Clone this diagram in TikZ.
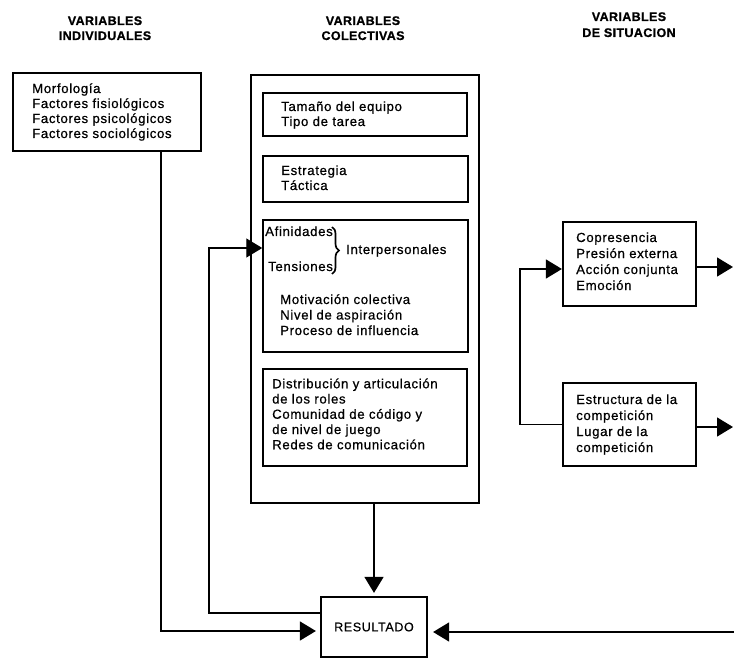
\documentclass[tikz,border=0pt]{standalone}
\usepackage{fontspec}
\setmainfont{Liberation Sans}
\newfontfamily\bodyfont[LetterSpace=5,FakeBold=0.6]{Liberation Sans}
\newfontfamily\headfont[LetterSpace=3,FakeBold=0.8]{Liberation Sans}
\usetikzlibrary{arrows.meta,decorations.pathreplacing}

\begin{document}
\begin{tikzpicture}[x=1pt,y=-1pt,
  txt/.style={inner sep=0pt, anchor=base west, font=\bodyfont\fontsize{13.2}{15}\selectfont},
  head/.style={inner sep=0pt, anchor=base, font=\headfont\bfseries\fontsize{12.5}{14}\selectfont},
  outerbox/.style={draw, line width=2.2pt, inner sep=0pt},
  innerbox/.style={draw, line width=1.5pt, inner sep=0pt},
  conn/.style={line width=1.4pt},
  tip/.style={-{Triangle[length=16pt,width=19pt]}},
]
% canvas
\fill[white] (0,0) rectangle (734,658);
\useasboundingbox (0,0) rectangle (734,658);

% column headings
\node[head] (h1a) at (105,25) {VARIABLES};
\node[head] (h1b) at (105,40) {INDIVIDUALES};
\node[head] (h2a) at (363,25) {VARIABLES};
\node[head] (h2b) at (363,40) {COLECTIVAS};
\node[head] (h3a) at (629,21) {VARIABLES};
\node[head] (h3b) at (629,37) {DE SITUACION};

% individual variables
\node[outerbox, minimum width=188pt, minimum height=78pt] (ind) at (107,112) {};
\foreach \t [count=\i] in {Morfología, Factores fisiológicos, Factores psicológicos, Factores sociológicos}
  \node[txt] (ind-\i) at (32,{78+15*\i}) {\t};

% collective variables: outer frame and its four groups
\node[outerbox, minimum width=228pt, minimum height=428pt] (big) at (365,289) {};

\node[innerbox, minimum width=204pt, minimum height=43pt] (s1) at (365,114.5) {};
\foreach \t [count=\i] in {Tamaño del equipo, Tipo de tarea}
  \node[txt] (s1-\i) at (281,{96+15*\i}) {\t};

\node[innerbox, minimum width=205pt, minimum height=46pt] (s2) at (365.5,179) {};
\foreach \t [count=\i] in {Estrategia, Táctica}
  \node[txt] (s2-\i) at (281,{160+15*\i}) {\t};

\node[innerbox, minimum width=205pt, minimum height=132pt] (s3) at (365.5,286) {};
\node[txt] (afin) at (265,236) {Afinidades};
\node[txt] (tens) at (268,271) {Tensiones};
\node[txt] (inter) at (346,254) {Interpersonales};
\draw[line width=1.7pt, decorate, decoration={brace, amplitude=7pt, aspect=0.5}] (332,227) -- (332,274);
\foreach \t [count=\i] in {Motivación colectiva, Nivel de aspiración, Proceso de influencia}
  \node[txt] (s3-\i) at (280,{288.5+15.5*\i}) {\t};

\node[innerbox, minimum width=204pt, minimum height=97pt] (s4) at (365,417.5) {};
\foreach \t [count=\i] in {Distribución y articulación, de los roles, Comunidad de código y, de nivel de juego, Redes de comunicación}
  \node[txt] (s4-\i) at (272,{373+15.25*\i}) {\t};

% situational variables
\node[outerbox, minimum width=133pt, minimum height=84pt] (A) at (629.5,264) {};
\foreach \t [count=\i] in {Copresencia, Presión externa, Acción conjunta, Emoción}
  \node[txt] (A-\i) at (576,{226+16*\i}) {\t};

\node[outerbox, minimum width=133pt, minimum height=83pt] (B) at (629.5,424.5) {};
\foreach \t [count=\i] in {Estructura de la, competición, Lugar de la, competición}
  \node[txt] (B-\i) at (576,{388+16*\i}) {\t};

% result
\node[outerbox, minimum width=106pt, minimum height=60pt, font=\bodyfont\fontsize{12.5}{15}\selectfont] (res) at (374,627) {RESULTADO};

% connectors
\coordinate (lx) at (161,0);
\draw[conn, tip, shorten >=4pt] (ind.south -| lx) |- ([yshift=-4pt]res.west);
\draw[conn, tip, shorten >=3pt] (big.south -| res.north) -- (res.north);
\coordinate (fb) at (209,248);
\draw[conn, tip] ([yshift=14pt]res.west) -| (fb) -- (fb -| s3.west);

\coordinate (rx) at (520,269);
\draw[conn, tip] (B.west) -| (rx) -- (rx -| A.west);
\coordinate (outA) at (733,267);
\draw[conn, tip] (A.east |- outA) -- (outA);
\coordinate (outB) at (733,427);
\draw[conn, tip] (B.east |- outB) -- (outB);
\coordinate (inR) at (734,632);
\draw[conn, tip, shorten >=5pt] (inR) -- (inR -| res.east);
\end{tikzpicture}
\end{document}
